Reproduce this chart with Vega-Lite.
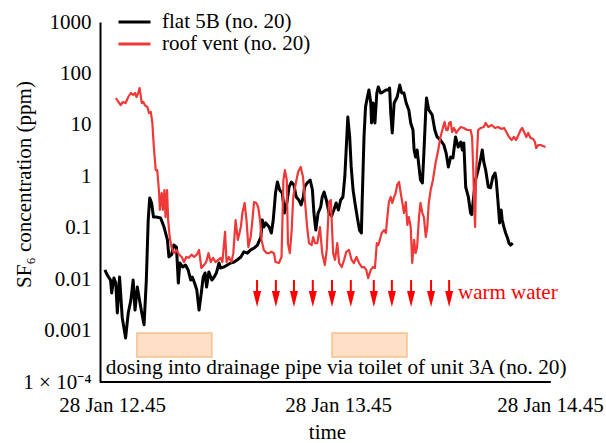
{
  "$schema": "https://vega.github.io/schema/vega-lite/v6.json",
  "width": 464,
  "height": 360,
  "autosize": "none",
  "padding": {"left": 100, "top": 22, "right": 42, "bottom": 61},
  "background": "white",
  "config": {
    "view": {"stroke": null},
    "font": "Liberation Serif",
    "axis": {"grid": false, "ticks": false, "tickSize": 0, "labelFont": "Liberation Serif", "titleFont": "Liberation Serif", "labelFontSize": 21, "titleFontSize": 21, "labelColor": "black", "titleColor": "black", "titleFontWeight": "normal", "domainColor": "black", "domainWidth": 2}
  },
  "datasets": {
    "boxes": [
      {"t": 51.6, "t2": 71.5, "v": 0.000897, "v2": 0.000306},
      {"t": 103.4, "t2": 123.3, "v": 0.000897, "v2": 0.000306}
    ],
    "arrows": [{"t": 83.5}, {"t": 88.5}, {"t": 93.3}, {"t": 98.3}, {"t": 103.4}, {"t": 108.4}, {"t": 114.5}, {"t": 119.3}, {"t": 124.4}, {"t": 129.7}, {"t": 134.5}],
    "dosing": [{"t": 104.5, "v": 0.000187, "label": "dosing into drainage pipe via toilet of unit 3A (no. 20)"}],
    "warm": [{"t": 136.85, "v": 0.0054, "label": "warm water"}],
    "flat": [
      {"t":43.1,"v":0.0151},{"t":43.7,"v":0.0121},{"t":44.6,"v":0.0096},{"t":44.9,"v":0.0054},{"t":45.5,"v":0.0105},{"t":46.0,"v":0.0084},{"t":46.4,"v":0.0022},{"t":47.0,"v":0.011},{"t":47.7,"v":0.0018},{"t":48.6,"v":0.00072},{"t":49.3,"v":0.0022},{"t":50.0,"v":0.0039},{"t":50.6,"v":0.0096},{"t":51.1,"v":0.0025},{"t":51.7,"v":0.007},{"t":52.3,"v":0.0039},{"t":52.9,"v":0.0022},{"t":53.5,"v":0.0013},{"t":54.1,"v":0.0096},{"t":54.6,"v":0.141},{"t":55.0,"v":0.378},{"t":55.5,"v":0.303},{"t":56.0,"v":0.161},{"t":56.7,"v":0.161},{"t":57.9,"v":0.155},{"t":58.8,"v":0.103},{"t":59.7,"v":0.058},{"t":60.1,"v":0.027},{"t":60.8,"v":0.03},{"t":61.4,"v":0.046},{"t":62.1,"v":0.042},{"t":62.6,"v":0.0084},{"t":63.0,"v":0.0206},{"t":63.8,"v":0.0172},{"t":64.5,"v":0.0188},{"t":65.2,"v":0.0151},{"t":65.9,"v":0.0096},{"t":66.3,"v":0.011},{"t":66.9,"v":0.0084},{"t":67.5,"v":0.0062},{"t":68.1,"v":0.0025},{"t":68.7,"v":0.0054},{"t":69.2,"v":0.011},{"t":69.7,"v":0.0132},{"t":70.1,"v":0.007},{"t":70.7,"v":0.0138},{"t":71.5,"v":0.0096},{"t":72.1,"v":0.011},{"t":72.7,"v":0.0132},{"t":73.4,"v":0.0206},{"t":73.8,"v":0.0165},{"t":74.7,"v":0.0172},{"t":75.6,"v":0.0188},{"t":76.5,"v":0.0206},{"t":77.4,"v":0.0215},{"t":78.2,"v":0.0236},{"t":79.2,"v":0.027},{"t":80.0,"v":0.034},{"t":80.9,"v":0.032},{"t":81.8,"v":0.037},{"t":82.7,"v":0.04},{"t":83.6,"v":0.046},{"t":84.5,"v":0.066},{"t":84.9,"v":0.141},{"t":85.3,"v":0.103},{"t":85.8,"v":0.124},{"t":86.7,"v":0.103},{"t":87.3,"v":0.079},{"t":87.8,"v":0.141},{"t":88.4,"v":0.473},{"t":88.9,"v":0.774},{"t":89.5,"v":0.541},{"t":90.2,"v":0.473},{"t":90.8,"v":0.193},{"t":91.4,"v":0.303},{"t":92.0,"v":0.619},{"t":92.6,"v":0.774},{"t":93.3,"v":0.678},{"t":93.9,"v":0.396},{"t":94.6,"v":0.346},{"t":95.2,"v":0.277},{"t":95.8,"v":0.396},{"t":96.1,"v":0.619},{"t":96.8,"v":0.741},{"t":97.6,"v":0.847},{"t":98.2,"v":0.541},{"t":98.6,"v":0.193},{"t":99.1,"v":0.09},{"t":99.7,"v":0.193},{"t":100.4,"v":0.253},{"t":100.8,"v":0.396},{"t":101.3,"v":0.495},{"t":101.9,"v":0.346},{"t":102.6,"v":0.193},{"t":103.3,"v":0.17},{"t":103.9,"v":0.221},{"t":104.5,"v":0.303},{"t":105.1,"v":0.221},{"t":105.7,"v":0.346},{"t":106.3,"v":0.396},{"t":106.8,"v":0.97},{"t":107.2,"v":3.71},{"t":107.6,"v":14.2},{"t":108.1,"v":5.81},{"t":108.5,"v":1.52},{"t":109.0,"v":0.541},{"t":109.5,"v":0.303},{"t":110.1,"v":0.161},{"t":110.7,"v":0.09},{"t":111.2,"v":0.079},{"t":111.4,"v":0.303},{"t":111.9,"v":5.81},{"t":112.3,"v":22.2},{"t":112.8,"v":34.8},{"t":113.2,"v":47.6},{"t":113.7,"v":26.6},{"t":113.9,"v":10.9},{"t":114.3,"v":26.6},{"t":114.8,"v":10.9},{"t":115.3,"v":41.6},{"t":115.7,"v":54.5},{"t":116.3,"v":41.6},{"t":116.9,"v":43.5},{"t":117.7,"v":47.6},{"t":118.3,"v":47.6},{"t":118.7,"v":52},{"t":119.0,"v":17.0},{"t":119.4,"v":6.95},{"t":119.9,"v":26.6},{"t":120.3,"v":30.4},{"t":120.7,"v":34.8},{"t":121.4,"v":59.6},{"t":121.9,"v":41.6},{"t":122.5,"v":41.6},{"t":123.1,"v":26.6},{"t":123.8,"v":19.5},{"t":124.3,"v":10.9},{"t":124.9,"v":7.94},{"t":125.2,"v":3.24},{"t":125.6,"v":2.37},{"t":126.0,"v":3.24},{"t":126.5,"v":1.52},{"t":126.9,"v":0.847},{"t":127.4,"v":0.741},{"t":127.8,"v":2.84},{"t":128.3,"v":19.5},{"t":128.5,"v":33.3},{"t":129.1,"v":19.5},{"t":130.0,"v":15.6},{"t":130.7,"v":7.94},{"t":131.3,"v":5.81},{"t":132.2,"v":5.08},{"t":133.1,"v":4.06},{"t":133.7,"v":2.84},{"t":134.3,"v":1.52},{"t":134.9,"v":2.37},{"t":135.5,"v":2.27},{"t":136.2,"v":5.81},{"t":136.9,"v":3.71},{"t":137.6,"v":4.64},{"t":138.0,"v":3.24},{"t":138.4,"v":4.44},{"t":138.9,"v":0.619},{"t":139.6,"v":0.396},{"t":140.2,"v":0.193},{"t":140.5,"v":0.18},{"t":141.5,"v":0.847},{"t":142.2,"v":1.32},{"t":142.9,"v":2.27},{"t":143.3,"v":3.24},{"t":143.7,"v":1.9},{"t":144.2,"v":1.32},{"t":144.9,"v":0.619},{"t":145.5,"v":0.6},{"t":146.1,"v":0.97},{"t":146.7,"v":1.16},{"t":147.0,"v":0.847},{"t":147.5,"v":0.303},{"t":147.9,"v":0.124},{"t":148.3,"v":0.221},{"t":148.6,"v":0.141},{"t":149.1,"v":0.099},{"t":149.5,"v":0.079},{"t":150.0,"v":0.063},{"t":150.4,"v":0.05},{"t":150.8,"v":0.046},{"t":151.4,"v":0.05}
    ],
    "roof": [
      {"t":46.0,"v":33.3},{"t":46.7,"v":27.8},{"t":47.3,"v":24.3},{"t":47.9,"v":27.8},{"t":48.6,"v":26.6},{"t":49.3,"v":34.8},{"t":50.0,"v":41.6},{"t":50.6,"v":38.1},{"t":51.1,"v":41.6},{"t":51.5,"v":34.8},{"t":52.0,"v":43.5},{"t":52.3,"v":52},{"t":52.9,"v":26.6},{"t":53.3,"v":27.8},{"t":53.7,"v":24.3},{"t":54.4,"v":22.2},{"t":54.8,"v":17.0},{"t":55.3,"v":17.8},{"t":55.7,"v":10.9},{"t":56.1,"v":3.71},{"t":56.6,"v":1.32},{"t":57.0,"v":1.32},{"t":57.5,"v":0.473},{"t":57.7,"v":0.221},{"t":58.2,"v":0.473},{"t":58.5,"v":0.221},{"t":58.9,"v":0.541},{"t":59.2,"v":0.161},{"t":59.6,"v":0.541},{"t":59.9,"v":0.141},{"t":60.3,"v":0.066},{"t":60.8,"v":0.042},{"t":61.4,"v":0.032},{"t":62.1,"v":0.037},{"t":62.8,"v":0.03},{"t":63.5,"v":0.027},{"t":64.1,"v":0.0215},{"t":64.7,"v":0.027},{"t":65.4,"v":0.026},{"t":66.1,"v":0.03},{"t":66.8,"v":0.027},{"t":67.5,"v":0.03},{"t":68.1,"v":0.037},{"t":68.7,"v":0.0165},{"t":69.4,"v":0.0188},{"t":70.0,"v":0.0215},{"t":70.6,"v":0.032},{"t":71.2,"v":0.0215},{"t":71.8,"v":0.026},{"t":72.5,"v":0.0215},{"t":73.2,"v":0.0236},{"t":73.8,"v":0.026},{"t":74.3,"v":0.0215},{"t":75.0,"v":0.083},{"t":75.4,"v":0.0215},{"t":76.0,"v":0.027},{"t":76.7,"v":0.0215},{"t":77.2,"v":0.032},{"t":77.8,"v":0.141},{"t":78.4,"v":0.058},{"t":79.2,"v":0.103},{"t":79.6,"v":0.193},{"t":80.2,"v":0.303},{"t":80.7,"v":0.141},{"t":81.2,"v":0.042},{"t":81.8,"v":0.066},{"t":82.2,"v":0.124},{"t":82.7,"v":0.316},{"t":83.3,"v":0.303},{"t":83.8,"v":0.253},{"t":84.3,"v":0.141},{"t":84.7,"v":0.058},{"t":85.3,"v":0.037},{"t":86.1,"v":0.032},{"t":86.7,"v":0.032},{"t":87.3,"v":0.034},{"t":88.0,"v":0.032},{"t":88.4,"v":0.0215},{"t":89.3,"v":0.0206},{"t":90.0,"v":0.027},{"t":90.5,"v":0.847},{"t":90.9,"v":1.32},{"t":91.4,"v":0.847},{"t":91.7,"v":0.05},{"t":92.2,"v":0.032},{"t":92.7,"v":0.09},{"t":93.1,"v":0.396},{"t":93.8,"v":0.741},{"t":94.4,"v":1.21},{"t":95.1,"v":1.52},{"t":95.7,"v":0.97},{"t":96.2,"v":0.346},{"t":96.8,"v":0.103},{"t":97.3,"v":0.05},{"t":98.0,"v":0.046},{"t":98.4,"v":0.066},{"t":98.9,"v":0.05},{"t":99.5,"v":0.05},{"t":100.2,"v":0.103},{"t":100.8,"v":0.032},{"t":101.5,"v":0.0188},{"t":102.0,"v":0.037},{"t":102.6,"v":0.32},{"t":103.1,"v":0.346},{"t":103.4,"v":0.103},{"t":103.7,"v":0.032},{"t":104.2,"v":0.0236},{"t":104.8,"v":0.05},{"t":105.3,"v":0.0206},{"t":106.0,"v":0.0172},{"t":106.6,"v":0.0236},{"t":107.2,"v":0.034},{"t":107.9,"v":0.037},{"t":108.6,"v":0.0236},{"t":109.2,"v":0.0206},{"t":109.9,"v":0.027},{"t":110.6,"v":0.0206},{"t":111.3,"v":0.0172},{"t":111.9,"v":0.0172},{"t":112.5,"v":0.0151},{"t":113.0,"v":0.0105},{"t":113.7,"v":0.0151},{"t":114.3,"v":0.0172},{"t":114.8,"v":0.0165},{"t":115.3,"v":0.05},{"t":115.7,"v":0.046},{"t":116.1,"v":0.058},{"t":116.6,"v":0.079},{"t":117.2,"v":0.09},{"t":117.7,"v":0.079},{"t":118.1,"v":0.161},{"t":118.5,"v":0.316},{"t":119.0,"v":0.396},{"t":119.4,"v":0.303},{"t":119.9,"v":0.396},{"t":120.3,"v":0.473},{"t":120.7,"v":0.678},{"t":121.2,"v":0.774},{"t":121.6,"v":0.495},{"t":122.1,"v":0.303},{"t":122.5,"v":0.193},{"t":123.0,"v":0.316},{"t":123.4,"v":0.113},{"t":123.8,"v":0.161},{"t":124.3,"v":0.103},{"t":124.7,"v":0.0206},{"t":125.2,"v":0.058},{"t":125.6,"v":0.032},{"t":126.0,"v":0.042},{"t":126.5,"v":0.161},{"t":126.9,"v":0.303},{"t":127.4,"v":0.193},{"t":127.8,"v":0.161},{"t":128.3,"v":0.066},{"t":128.7,"v":0.103},{"t":129.1,"v":0.303},{"t":129.6,"v":0.541},{"t":130.2,"v":0.847},{"t":130.9,"v":1.81},{"t":131.6,"v":3.24},{"t":132.2,"v":5.81},{"t":132.9,"v":9.09},{"t":133.3,"v":11.4},{"t":133.7,"v":8.0},{"t":134.1,"v":7.9},{"t":134.5,"v":10.9},{"t":134.9,"v":11.4},{"t":135.3,"v":7.26},{"t":135.8,"v":8.69},{"t":136.4,"v":6.95},{"t":136.9,"v":7.94},{"t":137.6,"v":9.09},{"t":138.4,"v":8.69},{"t":139.3,"v":7.94},{"t":140.2,"v":7.94},{"t":140.6,"v":5.81},{"t":140.9,"v":1.32},{"t":141.2,"v":0.221},{"t":141.4,"v":0.103},{"t":141.7,"v":1.32},{"t":142.2,"v":7.94},{"t":142.9,"v":8.69},{"t":143.7,"v":9.09},{"t":144.2,"v":10.9},{"t":144.9,"v":9.09},{"t":145.8,"v":9.94},{"t":146.7,"v":8.69},{"t":147.5,"v":9.09},{"t":148.4,"v":8.3},{"t":149.1,"v":8.69},{"t":149.7,"v":7.26},{"t":150.4,"v":5.81},{"t":151.1,"v":5.08},{"t":151.7,"v":5.81},{"t":152.3,"v":5.08},{"t":152.9,"v":6.35},{"t":153.5,"v":7.94},{"t":153.9,"v":8.69},{"t":154.4,"v":7.26},{"t":155.0,"v":5.81},{"t":155.5,"v":6.95},{"t":156.1,"v":5.55},{"t":156.8,"v":5.31},{"t":157.3,"v":4.64},{"t":157.6,"v":3.55},{"t":158.2,"v":4.06},{"t":158.8,"v":4.06},{"t":159.4,"v":3.88},{"t":160.1,"v":3.71}
    ]
  },
  "layer": [
    {
      "data": {"name": "boxes"},
      "mark": {"type": "rect", "fill": "#fde0c6", "stroke": "#f7c08c", "strokeWidth": 1.5},
      "encoding": {
        "x": {"field": "t", "type": "quantitative", "scale": {"domain": [41.8, 165], "nice": false, "zero": false},
          "axis": {"title": "time", "values": [45, 105, 165], "domain": false,
            "labelExpr": "datum.value == 45 ? '28 Jan 12.45' : (datum.value == 105 ? '28 Jan 13.45' : '28 Jan 14.45')",
            "labelBaseline": "alphabetic", "labelPadding": 29, "labelFlush": false,
            "labelOffset": {"condition": {"test": "datum.value > 160", "value": -14}, "value": 0},
            "titleX": 227, "titleY": 56, "titleBaseline": "alphabetic", "titleAnchor": null}},
        "x2": {"field": "t2"},
        "y": {"field": "v", "type": "quantitative", "scale": {"type": "log", "domain": [0.0001, 1000], "nice": false},
          "axis": {"title": "SF₆ concentration (ppm)", "values": [0.0001, 0.001, 0.01, 0.1, 1, 10, 100, 1000],
            "labelExpr": "datum.value < 0.0005 ? '1 × 10⁻⁴' : format(datum.value, '~f')",
            "labelPadding": 9, "labelFlush": false, "titleX": -70, "titleY": 162, "titleBaseline": "alphabetic", "titleAngle": 270}},
        "y2": {"field": "v2"}
      }
    },
    {
      "data": {"name": "flat"},
      "mark": {"type": "line", "strokeWidth": 3, "strokeJoin": "round"},
      "encoding": {
        "x": {"field": "t", "type": "quantitative"},
        "y": {"field": "v", "type": "quantitative"},
        "color": {"datum": "flat 5B (no. 20)", "type": "nominal",
          "scale": {"domain": ["flat 5B (no. 20)", "roof vent (no. 20)"], "range": ["#000000", "#ef3838"]},
          "legend": {"orient": "none", "legendX": 24, "legendY": -10.5, "title": null, "symbolType": "M-2,0L2,0", "symbolSize": 256, "symbolStrokeWidth": 3, "labelFont": "Liberation Serif", "labelFontSize": 21, "labelLimit": 400, "labelOffset": 17, "rowPadding": 0, "padding": 0, "labelColor": "black"}}
      }
    },
    {
      "data": {"name": "roof"},
      "mark": {"type": "line", "strokeWidth": 2.2, "strokeJoin": "round"},
      "encoding": {
        "x": {"field": "t", "type": "quantitative"},
        "y": {"field": "v", "type": "quantitative"},
        "color": {"datum": "roof vent (no. 20)", "type": "nominal"}
      }
    },
    {
      "data": {"name": "arrows"},
      "mark": {"type": "rule", "color": "#ff0000", "strokeWidth": 2},
      "encoding": {
        "x": {"field": "t", "type": "quantitative"},
        "y": {"datum": 0.0096, "type": "quantitative"},
        "y2": {"datum": 0.0052}
      }
    },
    {
      "data": {"name": "arrows"},
      "mark": {"type": "point", "shape": "M-0.5,-1L0.5,-1L0,1Z", "size": 256, "filled": true, "color": "#ff0000", "opacity": 1},
      "encoding": {
        "x": {"field": "t", "type": "quantitative"},
        "y": {"datum": 0.00411, "type": "quantitative"}
      }
    },
    {
      "data": {"name": "dosing"},
      "mark": {"type": "text", "font": "Liberation Serif", "fontSize": 21.3, "align": "center", "baseline": "middle", "color": "black"},
      "encoding": {
        "x": {"field": "t", "type": "quantitative"},
        "y": {"field": "v", "type": "quantitative"},
        "text": {"field": "label"}
      }
    },
    {
      "data": {"name": "warm"},
      "mark": {"type": "text", "font": "Liberation Serif", "fontSize": 21, "align": "left", "baseline": "middle", "color": "#ff0000"},
      "encoding": {
        "x": {"field": "t", "type": "quantitative"},
        "y": {"field": "v", "type": "quantitative"},
        "text": {"field": "label"}
      }
    },
    {
      "data": {"values": [{}]},
      "mark": {"type": "rule", "color": "black", "strokeWidth": 2},
      "encoding": {
        "x": {"datum": 41.8, "type": "quantitative"},
        "x2": {"datum": 161.5},
        "y": {"datum": 0.0001, "type": "quantitative"}
      }
    }
  ]
}
